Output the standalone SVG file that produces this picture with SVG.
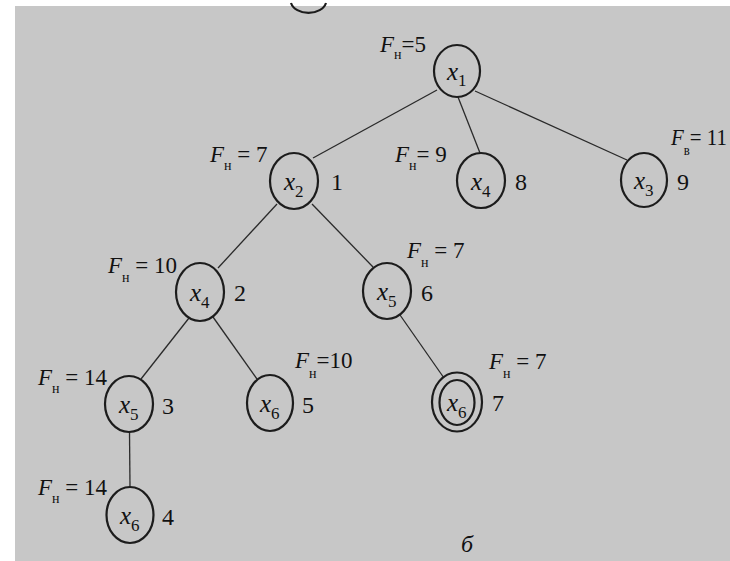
<svg xmlns="http://www.w3.org/2000/svg" width="730" height="561" viewBox="0 0 730 561">
<style>
.bg{fill:#c7c7c7}
.n{fill:none;stroke:#1c1c1c;stroke-width:2.2}
.e{stroke:#2a2a2a;stroke-width:1.3;fill:none}
text{font-family:'Liberation Serif',serif;fill:#111111}
.lab{font-size:23px}
.f{font-style:italic}
.s{font-size:14px;font-style:normal}
.xv{font-size:25px;font-style:italic}
.xs{font-size:17px;font-style:normal}
.num{font-size:24px}
</style>
<rect x="0" y="0" width="730" height="561" fill="#ffffff"/>
<rect class="bg" x="15" y="6" width="715" height="555"/>
<path class="n" d="M291 3 A18 13 0 0 0 326 3"/>
<g id="connectors">
<line class="e" x1="437" y1="90" x2="313" y2="158"/>
<line class="e" x1="458" y1="97" x2="480" y2="153"/>
<line class="e" x1="475" y1="91" x2="627" y2="160"/>
<line class="e" x1="277" y1="204" x2="218" y2="268"/>
<line class="e" x1="312" y1="204" x2="373" y2="267"/>
<line class="e" x1="189" y1="318" x2="141" y2="379"/>
<line class="e" x1="213" y1="317" x2="257" y2="379"/>
<line class="e" x1="400" y1="315" x2="444" y2="378"/>
<line class="e" x1="129.5" y1="432" x2="130" y2="487"/>
</g>
<g id="n_x1">
<ellipse class="n" cx="457" cy="71" rx="23" ry="26"/>
<text x="447" y="80"><tspan class="xv">x</tspan><tspan class="xs" dy="6">1</tspan></text>
<text class="lab" x="380" y="52"><tspan class="f">F</tspan><tspan class="s" dy="7">н</tspan><tspan dy="-7">=5</tspan></text>
</g>
<g id="n_x2">
<ellipse class="n" cx="294" cy="181" rx="24" ry="28"/>
<text x="284" y="190"><tspan class="xv">x</tspan><tspan class="xs" dy="7">2</tspan></text>
<text class="num" x="331" y="190">1</text>
<text class="lab" x="210" y="162"><tspan class="f">F</tspan><tspan class="s" dy="8">н</tspan><tspan dy="-8"> = 7</tspan></text>
</g>
<g id="n_x4a">
<ellipse class="n" cx="481" cy="180.5" rx="24" ry="27.5"/>
<text x="471" y="190"><tspan class="xv">x</tspan><tspan class="xs" dy="7">4</tspan></text>
<text class="num" x="515" y="190">8</text>
<text class="lab" x="395" y="162"><tspan class="f">F</tspan><tspan class="s" dy="8">н</tspan><tspan dy="-8">= 9</tspan></text>
</g>
<g id="n_x3">
<ellipse class="n" cx="644" cy="180" rx="23" ry="27"/>
<text x="634" y="189"><tspan class="xv">x</tspan><tspan class="xs" dy="7">3</tspan></text>
<text class="num" x="677" y="190">9</text>
<text class="lab" x="671" y="145" textLength="56" lengthAdjust="spacingAndGlyphs"><tspan class="f">F</tspan><tspan class="s" dy="10">в</tspan><tspan dy="-10">= 11</tspan></text>
</g>
<g id="n_x4b">
<ellipse class="n" cx="200" cy="292" rx="24" ry="29"/>
<text x="190" y="301"><tspan class="xv">x</tspan><tspan class="xs" dy="7">4</tspan></text>
<text class="num" x="234" y="301">2</text>
<text class="lab" x="108" y="273"><tspan class="f">F</tspan><tspan class="s" dy="9">н</tspan><tspan dy="-9"> = 10</tspan></text>
</g>
<g id="n_x5a">
<ellipse class="n" cx="387" cy="291" rx="24" ry="28"/>
<text x="377" y="300"><tspan class="xv">x</tspan><tspan class="xs" dy="7">5</tspan></text>
<text class="num" x="421" y="301">6</text>
<text class="lab" x="407" y="258"><tspan class="f">F</tspan><tspan class="s" dy="9">н</tspan><tspan dy="-9"> = 7</tspan></text>
</g>
<g id="n_x5b">
<ellipse class="n" cx="129" cy="404" rx="24" ry="28"/>
<text x="119" y="413"><tspan class="xv">x</tspan><tspan class="xs" dy="7">5</tspan></text>
<text class="num" x="162" y="414">3</text>
<text class="lab" x="38" y="385"><tspan class="f">F</tspan><tspan class="s" dy="8">н</tspan><tspan dy="-8"> = 14</tspan></text>
</g>
<g id="n_x6a">
<ellipse class="n" cx="270" cy="403" rx="23" ry="28"/>
<text x="260" y="412"><tspan class="xv">x</tspan><tspan class="xs" dy="7">6</tspan></text>
<text class="num" x="302" y="413">5</text>
<text class="lab" x="295" y="368"><tspan class="f">F</tspan><tspan class="s" dy="10">н</tspan><tspan dy="-10">=10</tspan></text>
</g>
<g id="n_x6b">
<ellipse class="n" cx="457" cy="402" rx="25" ry="29.5"/>
<ellipse class="n" cx="457" cy="402.5" rx="17.5" ry="22.5" stroke-width="1.6"/>
<text x="447" y="411"><tspan class="xv">x</tspan><tspan class="xs" dy="7">6</tspan></text>
<text class="num" x="492" y="411">7</text>
<text class="lab" x="489" y="369"><tspan class="f">F</tspan><tspan class="s" dy="9">н</tspan><tspan dy="-9"> = 7</tspan></text>
</g>
<g id="n_x6c">
<ellipse class="n" cx="130" cy="515" rx="23.5" ry="28"/>
<text x="120" y="524"><tspan class="xv">x</tspan><tspan class="xs" dy="7">6</tspan></text>
<text class="num" x="162" y="525">4</text>
<text class="lab" x="38" y="495"><tspan class="f">F</tspan><tspan class="s" dy="8">н</tspan><tspan dy="-8"> = 14</tspan></text>
</g>
<text x="461" y="552" font-size="24" font-style="italic">б</text>
</svg>
